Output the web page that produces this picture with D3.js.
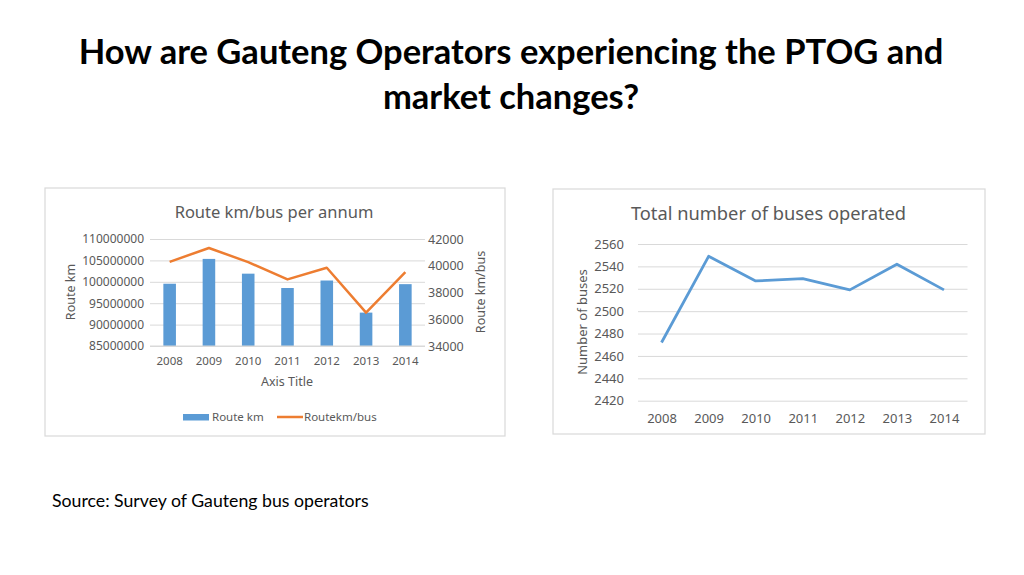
<!DOCTYPE html>
<html>
<head>
<meta charset="utf-8">
<script src="https://cdn.jsdelivr.net/npm/d3@7"></script>
<style>
  body { margin: 0; background: #fff; }
  svg { display: block; }
</style>
</head>
<body>
<svg width="1024" height="575"></svg>
<script>
// data
const years = ['2008', '2009', '2010', '2011', '2012', '2013', '2014'];
const routeKm = [99550000, 105350000, 101900000, 98550000, 100300000, 92800000, 99450000];
const routeKmPerBus = [40290, 41330, 40270, 38980, 39850, 36500, 39520];
const busCount = [2472, 2549, 2527, 2529, 2519, 2542, 2519];
const leftTicks = [85000000, 90000000, 95000000, 100000000, 105000000, 110000000];
const rightTicks = [34000, 36000, 38000, 40000, 42000];
const busTicks = [2420, 2440, 2460, 2480, 2500, 2520, 2540, 2560];

const svg = d3.select('svg');
const chartFont = '"Noto Sans", "Open Sans", sans-serif';
const textCol = '#595959';
const gridCol = '#d9d9d9';
const blue = '#5b9bd5';
const orange = '#ed7d31';

// page title
const title = svg.append('text')
    .attr('text-anchor', 'middle')
    .attr('font-family', 'Lato, sans-serif')
    .attr('font-weight', 'bold')
    .attr('font-size', 34.5)
    .attr('fill', '#000');
title.append('tspan').attr('x', 511).attr('y', 64).text('How are Gauteng Operators experiencing the PTOG and');
title.append('tspan').attr('x', 511).attr('y', 109).text('market changes?');

svg.append('text')
    .attr('x', 52).attr('y', 507)
    .attr('font-family', 'Lato, sans-serif')
    .attr('font-size', 17.7)
    .attr('fill', '#000')
    .text('Source: Survey of Gauteng bus operators');

// ---------- left chart: Route km/bus per annum ----------
svg.append('rect')
    .attr('x', 45).attr('y', 188).attr('width', 460).attr('height', 248)
    .attr('fill', '#fff').attr('stroke', gridCol).attr('stroke-width', 1.2);

const L = { left: 150, right: 425, top: 239, bottom: 346 };
const xL = d3.scaleBand().domain(years).range([L.left, L.right]).paddingInner(0.68).paddingOuter(0.34);
const yL = d3.scaleLinear().domain([85000000, 110000000]).range([L.bottom, L.top]);
const yR = d3.scaleLinear().domain([34000, 42000]).range([L.bottom, L.top]);

const gL = svg.append('g');

// grid
gL.append('g')
    .attr('transform', `translate(${L.left},0)`)
    .call(d3.axisLeft(yL).tickValues(leftTicks).tickSize(-(L.right - L.left)).tickFormat(''))
    .call(g => g.select('.domain').remove())
    .call(g => g.selectAll('line').attr('stroke', gridCol));

// left axis labels
gL.append('g')
    .attr('transform', `translate(${L.left - 3},0)`)
    .call(d3.axisLeft(yL).tickValues(leftTicks).tickSize(0).tickFormat(d3.format('d')))
    .call(g => g.select('.domain').remove())
    .call(g => g.selectAll('text').attr('font-family', chartFont).attr('font-size', 12).attr('fill', textCol));

// right axis labels
gL.append('g')
    .attr('transform', `translate(${L.right},0)`)
    .call(d3.axisRight(yR).tickValues(rightTicks).tickSize(0).tickFormat(d3.format('d')))
    .call(g => g.select('.domain').remove())
    .call(g => g.selectAll('text').attr('font-family', chartFont).attr('font-size', 12.5).attr('fill', textCol));

// bars
gL.selectAll('.bar')
    .data(years)
    .enter()
    .append('rect')
    .attr('class', 'bar')
    .attr('x', d => xL(d))
    .attr('y', (d, i) => yL(routeKm[i]))
    .attr('width', xL.bandwidth())
    .attr('height', (d, i) => L.bottom - yL(routeKm[i]))
    .attr('fill', blue);

// baseline
gL.append('line')
    .attr('x1', L.left).attr('x2', L.right)
    .attr('y1', L.bottom).attr('y2', L.bottom)
    .attr('stroke', gridCol);

// x axis labels
gL.append('g')
    .attr('transform', `translate(0,${L.bottom + 8})`)
    .call(d3.axisBottom(xL).tickSize(0))
    .call(g => g.select('.domain').remove())
    .call(g => g.selectAll('text').attr('font-family', chartFont).attr('font-size', 11.5).attr('fill', textCol));

// line
const lineL = d3.line()
    .x((d, i) => xL(years[i]) + xL.bandwidth() / 2)
    .y(d => yR(d));
gL.append('path')
    .datum(routeKmPerBus)
    .attr('fill', 'none')
    .attr('stroke', orange)
    .attr('stroke-width', 2.5)
    .attr('stroke-linejoin', 'round')
    .attr('d', lineL);

// titles
gL.append('text')
    .attr('x', 274).attr('y', 217.5)
    .attr('text-anchor', 'middle')
    .attr('font-family', chartFont).attr('font-size', 16.5).attr('fill', textCol)
    .text('Route km/bus per annum');
gL.append('text')
    .attr('x', 287).attr('y', 386)
    .attr('text-anchor', 'middle')
    .attr('font-family', chartFont).attr('font-size', 12.5).attr('fill', textCol)
    .text('Axis Title');
gL.append('text')
    .attr('transform', 'translate(75,292) rotate(-90)')
    .attr('text-anchor', 'middle')
    .attr('font-family', chartFont).attr('font-size', 12.5).attr('fill', textCol)
    .text('Route km');
gL.append('text')
    .attr('transform', 'translate(485,292) rotate(-90)')
    .attr('text-anchor', 'middle')
    .attr('font-family', chartFont).attr('font-size', 12.5).attr('fill', textCol)
    .text('Route km/bus');

// legend
const leg = gL.append('g');
leg.append('rect')
    .attr('x', 183).attr('y', 414).attr('width', 26).attr('height', 6.5)
    .attr('fill', blue);
leg.append('text')
    .attr('x', 212).attr('y', 421)
    .attr('font-family', chartFont).attr('font-size', 11.5).attr('fill', textCol)
    .text('Route km');
leg.append('line')
    .attr('x1', 277).attr('x2', 303).attr('y1', 417).attr('y2', 417)
    .attr('stroke', orange).attr('stroke-width', 2.5);
leg.append('text')
    .attr('x', 304).attr('y', 421)
    .attr('font-family', chartFont).attr('font-size', 11.5).attr('fill', textCol)
    .text('Routekm/bus');

// ---------- right chart: Total number of buses operated ----------
svg.append('rect')
    .attr('x', 553).attr('y', 189).attr('width', 432).attr('height', 245)
    .attr('fill', '#fff').attr('stroke', gridCol).attr('stroke-width', 1.2);

const R = { left: 638, right: 967.5, top: 244, bottom: 400.7 };
const xB = d3.scalePoint().domain(years).range([R.left, R.right]).padding(0.5);
const yB = d3.scaleLinear().domain([2420, 2560]).range([R.bottom, R.top]);

const gR = svg.append('g');

gR.append('g')
    .attr('transform', `translate(${R.left},0)`)
    .call(d3.axisLeft(yB).tickValues(busTicks).tickSize(-(R.right - R.left)).tickFormat(''))
    .call(g => g.select('.domain').remove())
    .call(g => g.selectAll('line').attr('stroke', gridCol));

gR.append('g')
    .attr('transform', `translate(${R.left - 11},0)`)
    .call(d3.axisLeft(yB).tickValues(busTicks).tickSize(0).tickFormat(d3.format('d')))
    .call(g => g.select('.domain').remove())
    .call(g => g.selectAll('text').attr('font-family', chartFont).attr('font-size', 13).attr('fill', textCol));

gR.append('g')
    .attr('transform', `translate(0,${R.bottom + 10})`)
    .call(d3.axisBottom(xB).tickSize(0))
    .call(g => g.select('.domain').remove())
    .call(g => g.selectAll('text').attr('font-family', chartFont).attr('font-size', 13).attr('fill', textCol));

const lineB = d3.line()
    .x((d, i) => xB(years[i]))
    .y(d => yB(d));
gR.append('path')
    .datum(busCount)
    .attr('fill', 'none')
    .attr('stroke', blue)
    .attr('stroke-width', 2.8)
    .attr('stroke-linejoin', 'round')
    .attr('d', lineB);

gR.append('text')
    .attr('x', 768.5).attr('y', 220)
    .attr('text-anchor', 'middle')
    .attr('font-family', chartFont).attr('font-size', 18.3).attr('fill', textCol)
    .text('Total number of buses operated');
gR.append('text')
    .attr('transform', 'translate(587,322) rotate(-90)')
    .attr('text-anchor', 'middle')
    .attr('font-family', chartFont).attr('font-size', 13).attr('fill', textCol)
    .text('Number of buses');
</script>
</body>
</html>
